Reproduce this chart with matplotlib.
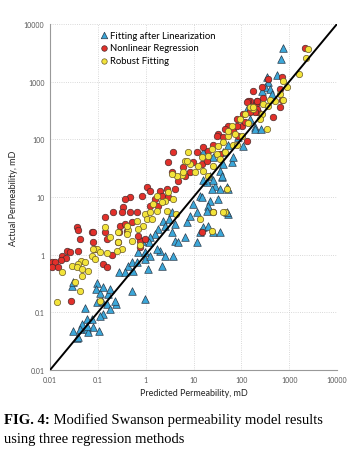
import matplotlib
matplotlib.use("Agg")
import matplotlib.pyplot as plt

# Fitting after Linearization (blue triangles): predicted, actual (mD)
lin_pred = [0.096, 0.029, 0.092, 0.16, 0.18, 0.11, 0.52, 0.97, 0.054, 0.096, 0.122, 0.156, 0.24, 0.18, 0.128,
            0.11, 0.059, 0.047, 0.042, 0.030, 0.059, 0.079, 0.062, 0.106, 0.037, 0.128, 0.030, 0.23, 0.43, 0.52,
            3.6, 3.1, 2.3, 2.55, 1.81, 1.57, 1.23, 1.18, 0.84, 0.69, 0.97, 4.1, 3.6, 2.0, 4.1, 2.55, 3.7,
            13.7, 22.3, 33, 51, 28, 19.3, 7.3, 13.7, 15.9, 6.7, 4.7, 25.8, 20.2, 53, 36, 11.9, 40, 53, 36,
            24.6, 20.2, 51, 15.2, 9.8, 19.3, 11.9, 8.5,
            131, 192, 151, 53, 42, 25.8, 15.9, 64, 42, 36, 40, 22.3, 15.9, 25.8,
            750, 680, 560, 343, 360, 312, 270, 400, 440, 192, 260, 85, 108, 67,
            0.28, 0.37, 0.66, 0.97, 1.23, 1.73, 2.2, 1.1, 0.55, 0.075, 0.059, 0.039]
lin_act = [0.32, 0.29, 0.25, 0.21, 0.25, 0.22, 0.23, 0.17, 0.12, 0.15, 0.16, 0.14, 0.14, 0.115, 0.093,
           0.086, 0.077, 0.063, 0.051, 0.047, 0.051, 0.056, 0.046, 0.047, 0.036, 0.28, 0.33, 0.16, 0.64, 0.75,
           5.5, 4.2, 3.9, 3.2, 2.8, 2.3, 2.0, 1.65, 1.7, 1.1, 1.1, 1.7, 2.5, 1.15, 3.4, 0.94, 0.94,
           10.4, 8.5, 9.2, 15, 15.5, 18, 3.7, 2.5, 3.0, 2.0, 1.65, 2.5, 3.2, 5.1, 2.5, 1.65, 22, 14, 14,
           14, 7.0, 5.5, 10, 7.6, 5.7, 5.5, 4.7,
           340, 165, 225, 81, 60, 50, 60, 40, 37, 28, 23, 23, 20, 20,
           3800, 2450, 1280, 1190, 980, 800, 690, 740, 600, 150, 150, 110, 76, 50,
           0.5, 0.5, 0.75, 0.84, 0.94, 1.25, 0.64, 0.56, 0.52, 0.077, 0.058, 0.037]

# Nonlinear Regression (red circles)
nl_pred = [0.037, 0.039, 0.075, 0.042, 0.156, 0.28, 0.41, 0.023, 0.026, 0.039, 0.018, 0.022, 0.017, 0.011,
           0.0127, 0.011, 0.0147, 0.087, 0.128, 0.156, 0.20, 0.028,
           3.6, 1.07, 1.23, 0.47, 0.37, 0.84, 2.0, 2.8, 2.2, 2.95, 4.1, 1.57, 0.33, 0.32, 0.47, 0.21, 0.14,
           0.66, 1.23, 1.81, 0.29, 0.37, 0.52, 0.14, 0.079, 0.76, 0.97, 0.079, 0.26, 0.69, 0.76,
           3.7, 2.95, 25.8, 15.2,
           151, 201, 221, 151, 81, 53, 67, 33, 42, 85, 131, 15.9, 20.2, 25.8, 11.9, 9.8, 15.2, 19.3, 6.0,
           8.5, 6.7, 4.7, 211, 103, 36,
           2150, 710, 650, 650, 710, 283, 211, 137, 192, 460, 108, 270, 174, 360,
           131, 211, 151, 81, 31, 46, 118]
nl_act = [3.0, 2.7, 2.5, 1.9, 1.85, 2.5, 2.6, 1.15, 1.1, 1.15, 0.94, 0.87, 0.81, 0.75,
          0.75, 0.61, 0.61, 1.25, 0.69, 0.61, 1.0, 0.16,
          27, 15, 12.7, 10, 9.2, 10.4, 12.7, 14, 10.4, 10, 14, 9.2, 6.7, 5.5, 5.5, 5.5, 4.5,
          5.5, 7.0, 7.0, 3.2, 3.4, 3.7, 2.5, 2.5, 1.7, 1.85, 1.65, 1.65, 2.1, 1.35,
          60, 40, 5.5, 2.5,
          460, 410, 300, 310, 225, 170, 140, 125, 110, 115, 93, 73, 63, 81, 60, 40, 37, 42, 33,
          27, 23, 19, 340, 170, 56,
          3800, 1190, 740, 360, 490, 530, 460, 460, 300, 245, 275, 800, 690, 1100,
          440, 460, 300, 170, 115, 150, 200]

# Robust Fitting (yellow)
rob_pred = [0.14, 0.18, 0.26, 0.32, 0.096, 0.11, 0.156, 0.075, 0.087, 0.044, 0.054, 0.039, 0.029, 0.037,
            0.047, 0.062, 0.018, 0.047, 0.033, 0.042, 0.014, 0.43, 0.11,
            2.95, 1.73, 2.55, 3.7, 1.42, 2.2, 0.97, 1.23, 1.73, 1.07, 1.35, 0.88, 0.66, 0.69, 0.26, 0.41,
            0.41, 0.25, 0.52, 0.079, 2.8, 4.3,
            7.7, 6.7, 5.7, 13.7, 24.6, 46, 0.76,
            174, 119, 94, 64, 74, 53, 42, 67, 33, 24.6, 31, 20.2, 15.2, 15.9, 12.5, 10.8, 8.5, 7.3, 46, 53,
            25.8, 20.2, 81, 6.0, 4.5, 3.6,
            2450, 2250, 1600, 750, 900, 650, 750, 510, 400, 151, 283, 360, 270, 343,
            42, 25.8, 51, 174, 250, 103, 140, 36]
rob_act = [3.0, 2.0, 1.65, 1.25, 1.25, 1.1, 1.06, 0.94, 0.84, 0.77, 0.75, 0.69, 0.64, 0.61,
           0.56, 0.52, 0.5, 0.42, 0.33, 0.23, 0.15, 2.7, 0.16,
           12.3, 10.4, 8.5, 9.2, 7.6, 8.2, 5.1, 5.5, 5.7, 4.2, 4.2, 3.2, 3.9, 2.8, 2.5, 3.2,
           2.3, 1.15, 1.7, 1.25, 5.7, 5.1,
           60, 42, 24, 4.2, 2.6, 5.5, 1.5,
           340, 275, 225, 170, 125, 115, 89, 81, 76, 68, 56, 52, 50, 28, 34, 27, 37, 42, 60, 140,
           34, 23, 81, 27, 23, 25,
           3700, 2550, 1340, 1020, 800, 600, 490, 460, 490, 360, 410, 380, 275, 150,
           5.5, 5.5, 14, 360, 225, 115, 190, 45]

ticks = [0.01, 0.1, 1, 10, 100, 1000, 10000]
tick_labels = ["0.01", "0.1", "1", "10", "100", "1000", "10000"]

plt.rcParams["font.family"] = ["Lato", "DejaVu Sans"]

fig = plt.figure(figsize=(3.53, 4.56), dpi=100)
ax = fig.add_axes([50 / 353, 85 / 456, 287 / 353, 346 / 456])
ax.set_xscale("log")
ax.set_yscale("log")
ax.set_xlim(0.01, 10000)
ax.set_ylim(0.01, 10000)

ax.scatter(lin_pred, lin_act, marker="^", s=30, c="#3ba7d9", edgecolors="#2a3a4a", linewidths=0.5,
           label="Fitting after Linearization", zorder=3)
ax.scatter(nl_pred, nl_act, marker="o", s=22, c="#e2302a", edgecolors="#4a2a2a", linewidths=0.5,
           label="Nonlinear Regression", zorder=3)
ax.scatter(rob_pred, rob_act, marker="o", s=21, c="#f2e33a", edgecolors="#6a5a2a", linewidths=0.5,
           label="Robust Fitting", zorder=3)
ax.plot([0.01, 10000], [0.01, 10000], color="black", lw=1.4, zorder=4)

ax.set_xticks(ticks)
ax.set_xticklabels(tick_labels)
ax.set_yticks(ticks)
ax.set_yticklabels(tick_labels)
ax.minorticks_off()
ax.tick_params(length=0, labelsize=5, labelcolor="#555555", pad=4)
ax.grid(True, ls=":", lw=0.6, color="#cccccc")
for side in ("top", "right"):
    ax.spines[side].set_visible(False)
for side in ("left", "bottom"):
    ax.spines[side].set_color("#999999")
    ax.spines[side].set_linewidth(0.8)

ax.set_xlabel("Predicted Permeability, mD", fontsize=6.5, color="#222222", labelpad=4)
ax.set_ylabel("Actual Permeability, mD", fontsize=6.5, color="#222222", labelpad=4)
ax.legend(loc="upper left", bbox_to_anchor=(0.15, 1.0), frameon=False, fontsize=6.8,
          handletextpad=0.1, labelspacing=0.4, borderaxespad=0.3, handlelength=1.0, markerscale=0.85)

cap_font = ["Liberation Serif", "DejaVu Serif"]
t1 = fig.text(4 / 353, 1 - 424 / 456, "FIG. 4:", fontsize=10.5, fontweight="bold", family=cap_font,
              va="baseline", ha="left")
fig.canvas.draw()
plt.annotate(" Modified Swanson permeability model results", xy=(1, 0), xycoords=t1,
             fontsize=10.5, family=cap_font, va="bottom", ha="left")
fig.text(4 / 353, 1 - 443 / 456, "using three regression methods", fontsize=10.5, family=cap_font,
         va="baseline", ha="left")

fig.savefig("out.png", dpi=100, facecolor="white")
